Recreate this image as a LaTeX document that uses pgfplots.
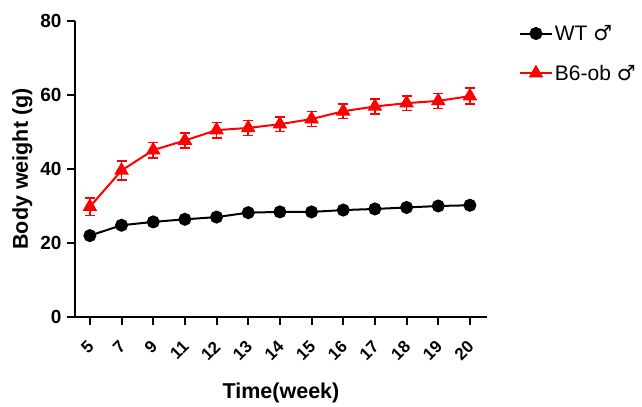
\documentclass[border=0pt]{standalone}
\usepackage{fontspec}
\setmainfont{Liberation Sans}
\newfontfamily\dejavu{DejaVu Sans}
\usepackage{pgfplots}
\usepackage{pgfplotstable}
\pgfplotsset{compat=1.18}
\pgfplotstableread{
x y
0 22.0
1 24.8
2 25.7
3 26.4
4 27.0
5 28.2
6 28.4
7 28.4
8 28.9
9 29.2
10 29.6
11 30.0
12 30.2
}\wt
\pgfplotstableread{
x y e
0 29.8 2.4
1 39.6 2.5
2 45.1 2.1
3 47.7 2.0
4 50.5 2.1
5 51.1 2.0
6 52.1 2.0
7 53.5 2.0
8 55.6 2.0
9 56.9 2.0
10 57.8 2.0
11 58.4 2.0
12 59.7 2.2
}\ob
\begin{document}
\begin{tikzpicture}
\begin{axis}[
  scale only axis, width=412pt, height=296pt,
  xmin=-0.47, xmax=12.54, ymin=0, ymax=80,
  axis lines=left, axis line style={line width=2.5pt, -},
  xtick={0,...,12}, xticklabels={5,7,9,11,12,13,14,15,16,17,18,19,20},
  ytick={0,20,40,60,80},
  tick style={line width=2pt, black}, major tick length=8pt, tick align=outside,
  xticklabel style={yshift=-19pt, xshift=1pt, rotate=45, anchor=east, inner sep=0pt, font=\fontsize{17}{19}\selectfont\bfseries},
  yticklabel style={font=\fontsize{19}{22}\selectfont\bfseries, xshift=-2pt},
  /pgf/number format/assume math mode=true,
  xlabel={Time(week)}, ylabel={Body weight (g)},
  label style={font=\fontsize{21.5}{24}\selectfont\bfseries},
  ylabel style={yshift=1pt},
  xlabel style={yshift=-18pt},
  legend style={at={(1.07,1.0)}, anchor=north west, draw=none, fill=none,
    font=\fontsize{21}{24}\selectfont, row sep=19pt},
  legend image code/.code={\draw[mark repeat=2,mark phase=2,#1] plot coordinates {(0cm,0cm) (0.56cm,0cm) (1.12cm,0cm)};},
  legend cell align=left,
]
\addplot[black, line width=2pt, mark=*, mark size=5.5pt] table[x=x,y=y]{\wt};
\addlegendentry{WT {\dejavu ♂}}
\addplot[red, line width=2pt, mark=triangle*, mark size=6.5pt,
  error bars/.cd, y dir=both, y explicit,
  error bar style={line width=1.6pt, red},
  error mark options={rotate=90, mark size=5pt, line width=1.6pt, red}]
  table[x=x,y=y,y error=e]{\ob};
\addlegendentry{B6-ob {\dejavu ♂}}
\end{axis}
\path (current axis.south west) ++(-75pt,-86pt) (current axis.north east) ++(155pt,21pt);
\end{tikzpicture}
\end{document}
